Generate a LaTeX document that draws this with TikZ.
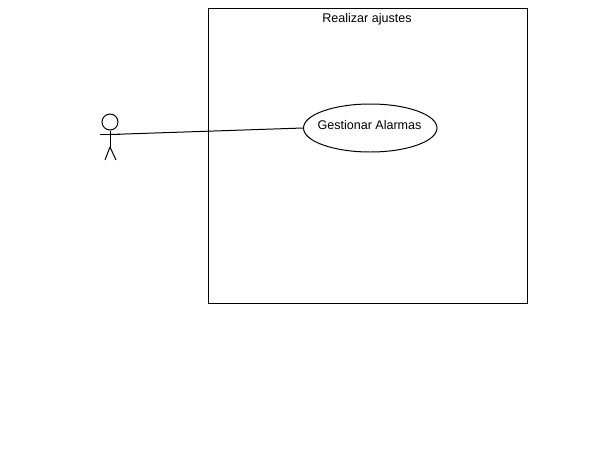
\documentclass[tikz,border=0pt]{standalone}
\usepackage{fontspec}
\setmainfont{Liberation Sans}
\usetikzlibrary{shapes.geometric}
\tikzset{
  ln/.style={draw=black,line width=0.75pt},
  usecase/.style={ellipse,ln,minimum width=133.5*0.75bp,minimum height=48*0.75bp,inner sep=0pt},
  lab/.style={font=\fontsize{9.45pt}{11pt}\selectfont,inner sep=0pt}
}
\begin{document}
\begin{tikzpicture}[x=0.75bp,y=-0.75bp]
\useasboundingbox (0,0) rectangle (608,456);
\draw[ln] (208.5,8.5) rectangle (527.5,303.5);
\node[lab] (title) at (367,19) {Realizar ajustes};
\node[usecase] (uc) at (370.25,128) {};
\node[lab] (uclabel) at (369.5,125) {Gestionar Alarmas};
\coordinate (hand) at (110,134.5);
\node[circle,ln,minimum size=16*0.75bp,inner sep=0pt] (head) at (110,122) {};
\coordinate (hip) at (110,147);
\draw[ln] (head.south) -- (hip);
\draw[ln] (hip) -- (105,160);
\draw[ln] (hip) -- (116,160);
\draw[ln] (100,134.5) -- (120,134.5);
\draw[ln] (hand) -- (uc.west);
\end{tikzpicture}
\end{document}
